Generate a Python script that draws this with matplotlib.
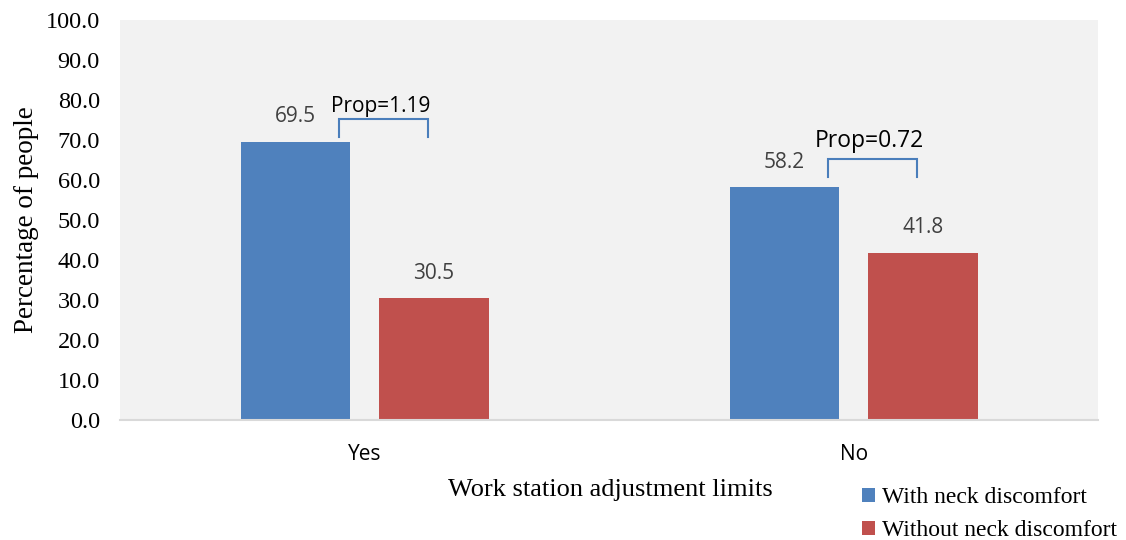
import numpy as np
import matplotlib
matplotlib.use("Agg")
import matplotlib.pyplot as plt

# Survey results by work station adjustment limits
categories = ["Yes", "No"]
with_neck = [69.5, 58.2]
without_neck = [30.5, 41.8]
prop_labels = ["Prop=1.19", "Prop=0.72"]
series_names = ["With neck discomfort", "Without neck discomfort"]
yticks = np.arange(0, 101, 10)

blue = "#4f81bd"
red = "#c0504d"
serif = "Liberation Serif"
sans = "Open Sans"

fig = plt.figure(figsize=(11.26, 5.4), dpi=100)
ax = fig.add_axes([0.1066, 0.2222, 0.8686, 0.7408])
ax.set_facecolor("#f2f2f2")

x = np.arange(len(categories))
w = 0.223
off = 0.142
b1 = ax.bar(x - off, with_neck, w, color=blue, label=series_names[0])
b2 = ax.bar(x + off, without_neck, w, color=red, label=series_names[1])

# value labels above bars
for bars, vals in [(b1, with_neck), (b2, without_neck)]:
    for rect, v in zip(bars, vals):
        ax.annotate(f"{v:.1f}", (rect.get_x() + rect.get_width() / 2, v),
                    xytext=(0, 18), textcoords="offset points",
                    ha="center", va="center", family=sans, fontsize=15,
                    color="#404040")

# proportion brackets between the two bars
prop_sizes = [15, 16.5]
for i, v in enumerate(with_neck):
    top = v + 5.75 if i == 0 else v + 7.0
    bot = top - 4.5
    xl, xr = x[i] - 0.053, x[i] + 0.129
    ax.plot([xl, xl, xr, xr], [bot, top, top, bot], color="#4a7ebb", lw=1.5,
            solid_joinstyle="miter")
    ax.text((xl + xr) / 2 - 0.005, top + (3.0 if i == 0 else 4.6), prop_labels[i],
            ha="center", va="center", family=sans, fontsize=prop_sizes[i],
            color="black")

ax.set_xlim(-0.5, 1.5)
ax.set_ylim(0, 100)
ax.set_yticks(yticks)
ax.set_yticklabels([f"{t:.1f}" for t in yticks], family=serif, fontsize=17.5)
ax.set_xticks(x)
ax.set_xticklabels(categories, family=sans, fontsize=15)
ax.tick_params(axis="both", length=0)
ax.tick_params(axis="x", pad=17)
ax.tick_params(axis="y", pad=14.5)

for s in ["top", "right", "left"]:
    ax.spines[s].set_visible(False)
ax.spines["bottom"].set_color("#d9d9d9")
ax.spines["bottom"].set_linewidth(1.5)

ax.set_ylabel("Percentage of people", family=serif, fontsize=19.5, labelpad=5)
fig.text(0.542, 0.093, "Work station adjustment limits", family=serif,
         fontsize=19, ha="center", va="center")

leg = fig.legend(handles=[b1, b2], loc="upper left",
                 bbox_to_anchor=(0.757, 0.115), frameon=False,
                 prop={"family": serif, "size": 17},
                 handlelength=0.55, handleheight=0.55, handletextpad=0.3,
                 labelspacing=0.5, borderaxespad=0)

fig.savefig("out.png", dpi=100, facecolor="white")
